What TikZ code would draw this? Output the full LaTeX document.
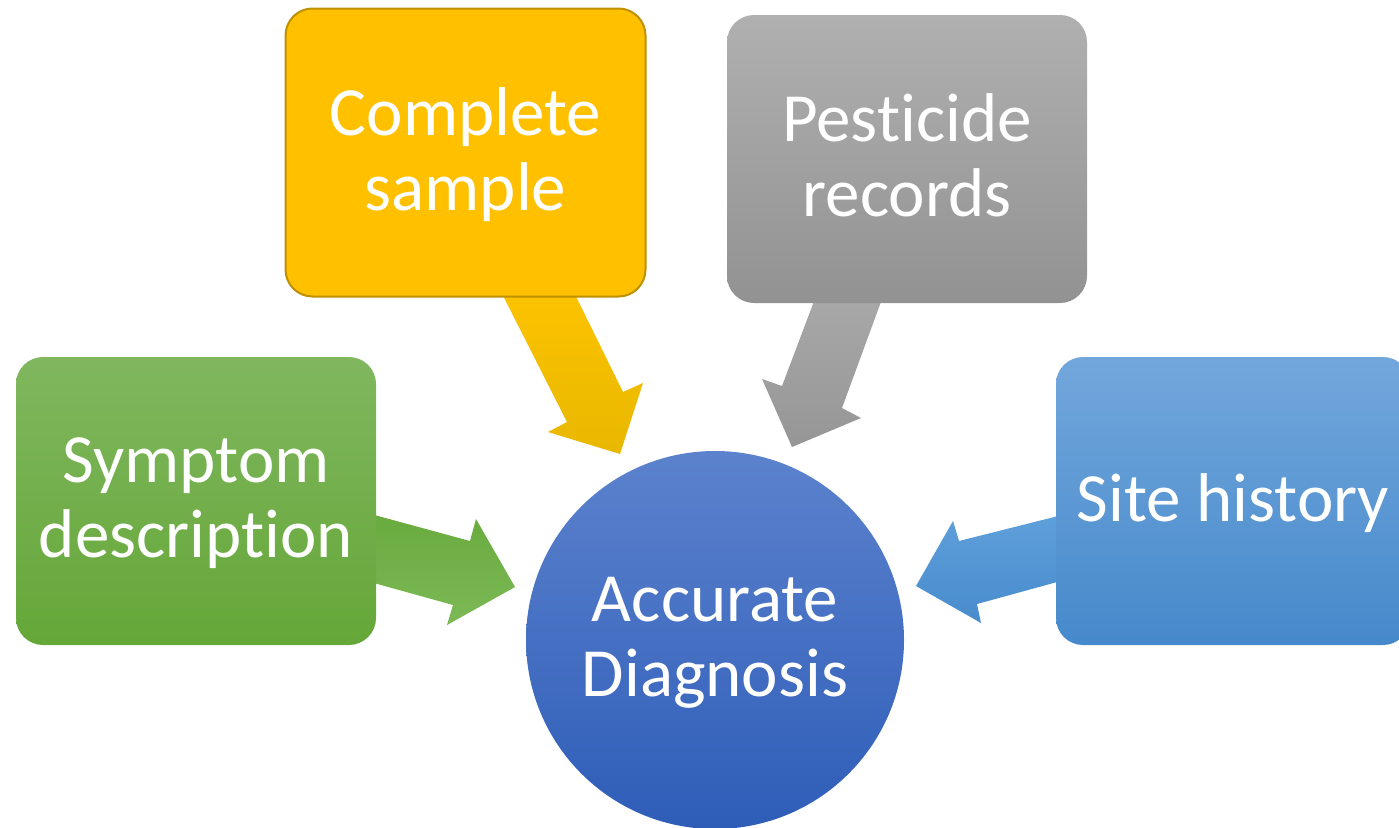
\documentclass[tikz,border=0pt]{standalone}
\usepackage{fontspec}
\setmainfont{Carlito}[Ligatures=NoCommon]
% palette
\definecolor{greenTop}{RGB}{128,183,95}
\definecolor{greenBot}{RGB}{101,167,56}
\definecolor{greenArrA}{RGB}{104,170,61}
\definecolor{greenArrB}{RGB}{124,185,86}
\definecolor{goldFill}{RGB}{255,192,0}
\definecolor{goldLine}{RGB}{191,144,0}
\definecolor{goldArrA}{RGB}{255,196,0}
\definecolor{goldArrB}{RGB}{232,184,0}
\definecolor{greyTop}{RGB}{176,176,176}
\definecolor{greyBot}{RGB}{146,146,146}
\definecolor{greyArrA}{RGB}{170,170,170}
\definecolor{greyArrB}{RGB}{150,150,150}
\definecolor{skyTop}{RGB}{114,167,220}
\definecolor{skyBot}{RGB}{70,137,203}
\definecolor{skyArrA}{RGB}{96,161,220}
\definecolor{skyArrB}{RGB}{72,139,204}
\definecolor{hubTop}{RGB}{92,130,205}
\definecolor{hubBot}{RGB}{46,93,184}
\begin{document}
\begin{tikzpicture}[x=1pt,y=-1pt,
  label text/.style={align=center, text=white, text depth=7pt,
    font=\fontsize{69}{75}\selectfont},
  box/.style={rectangle, rounded corners=27pt, minimum width=360pt, minimum height=288pt,
    inner sep=0pt, label text},
  hub/.style={circle, minimum size=378pt, inner sep=0pt, label text}]
\clip (0,0) rectangle (1399,827);
\useasboundingbox (0,0) rectangle (1399,827);

% block arrows, drawn first so their bases sit behind the boxes
\shade[top color=greenArrA, bottom color=greenArrB]
  (345,507) -- (470,541) -- (476,519) -- (515,587) -- (447,625) -- (453,605) -- (345,575) -- cycle;
\shade[top color=goldArrA, bottom color=goldArrB]
  (490,270) -- (563,270) -- (623,392) -- (643,383) -- (620,454) -- (548,432) -- (567,422) -- cycle;
\shade[top color=greyArrA, bottom color=greyArrB]
  (822,280) -- (889,280) -- (842,408) -- (861,418) -- (792,447) -- (762,379) -- (782,386) -- cycle;
\shade[top color=skyArrA, bottom color=skyArrB]
  (1090,508) -- (959,541) -- (953,521) -- (916,586) -- (981,623) -- (977,604) -- (1090,573) -- cycle;

% boxes and hub
\node[box, top color=greenTop, bottom color=greenBot]
  (symptom) at (196,501) {Symptom\\description};
\node[box, fill=goldFill, draw=goldLine, line width=2pt]
  (sample) at (465.5,152.5) {Complete\\sample};
\node[box, top color=greyTop, bottom color=greyBot]
  (records) at (907,159) {Pesticide\\records};
\node[box, minimum width=354pt, top color=skyTop, bottom color=skyBot]
  (site) at (1233,501) {Site history};
\node[hub, top color=hubTop, bottom color=hubBot]
  (diag) at (715,640) {Accurate\\Diagnosis};
\end{tikzpicture}
\end{document}
